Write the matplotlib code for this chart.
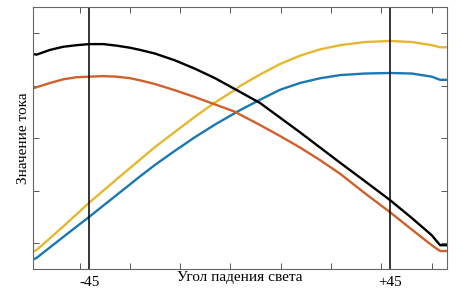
import matplotlib.pyplot as plt
import numpy as np

plt.rcParams['font.family'] = ['Liberation Serif', 'DejaVu Serif']

# angle of incidence, degrees
black_x = [-61.7, -60.7, -56.7, -52.7, -48.7, -45.0, -40.7, -36.7, -32.7, -29.8, -25.3, -19.3, -13.3,
           -7.3, -1.3, 6.1, 12.1, 18.1, 24.1, 30.1, 37.5, 45.0, 51.5, 57.5, 60.0, 62.0]
black_y = [4.10, 4.09, 4.18, 4.24, 4.27, 4.29, 4.29, 4.26, 4.22, 4.18, 4.11, 3.98, 3.82,
           3.64, 3.43, 3.17, 2.89, 2.61, 2.32, 2.03, 1.68, 1.32, 0.98, 0.65, 0.46, 0.46]

orange_x = [-61.7, -60.7, -56.7, -52.7, -48.7, -45.0, -40.7, -36.7, -32.7, -29.8, -25.3, -19.3, -13.3,
            -7.3, -1.3, 0.1, 6.1, 12.1, 18.1, 24.1, 30.1, 37.5, 45.0, 51.5, 57.5, 60.0, 62.0]
orange_y = [3.45, 3.47, 3.55, 3.62, 3.66, 3.67, 3.68, 3.67, 3.64, 3.60, 3.53, 3.41, 3.28,
            3.14, 3.00, 2.95, 2.75, 2.54, 2.32, 2.08, 1.82, 1.45, 1.09, 0.76, 0.46, 0.35, 0.35]

yellow_x = [-61.7, -60.7, -52.7, -45.0, -36.7, -29.8, -25.3, -19.3, -13.3, -7.3, -1.3, 0.1,
            6.1, 12.1, 18.1, 24.1, 30.1, 37.5, 45.0, 51.5, 57.5, 60.0, 62.0]
yellow_y = [0.34, 0.37, 0.82, 1.27, 1.72, 2.09, 2.33, 2.62, 2.91, 3.18, 3.42, 3.49,
            3.71, 3.91, 4.07, 4.19, 4.27, 4.33, 4.35, 4.33, 4.27, 4.23, 4.23]

blue_x = [-61.7, -60.7, -52.7, -45.0, -36.7, -29.8, -25.3, -19.3, -13.3, -7.3, -1.3, 0.1,
          6.1, 12.1, 18.1, 24.1, 30.1, 37.5, 45.0, 51.5, 57.5, 60.0, 62.0]
blue_y = [0.19, 0.22, 0.62, 1.00, 1.42, 1.77, 1.99, 2.26, 2.52, 2.76, 2.98, 3.03,
          3.23, 3.42, 3.55, 3.64, 3.70, 3.73, 3.74, 3.73, 3.67, 3.61, 3.61]

marker_angles = [-45, 45]
marker_labels = ['-45', '+45']
minor_x = [-47.7, -32.7, -17.8, -2.8, 12.4, 27.4, 42.3, 57.6]
minor_y = [0.5, 1.5, 2.5, 3.5, 4.5]

fig = plt.figure(figsize=(4.63, 2.97), dpi=100)
ax = fig.add_axes([0.072, 0.093, 0.893, 0.884])

ax.plot(blue_x, blue_y, color='#1a78b4', lw=1.7, solid_joinstyle='round')
ax.plot(yellow_x, yellow_y, color='#e6b830', lw=1.7, solid_joinstyle='round')
ax.plot(orange_x, orange_y, color='#d0602c', lw=1.7, solid_joinstyle='round')
ax.plot(black_x, black_y, color='black', lw=1.7, solid_joinstyle='round')
for a in marker_angles:
    ax.axvline(a, color='black', lw=1.1)

ax.set_xlim(-61.7, 62)
ax.set_ylim(0, 5)
ax.set_xticks(marker_angles)
ax.set_xticklabels(marker_labels, fontsize=11)
ax.set_xticks(minor_x, minor=True)
ax.set_yticks(minor_y)
ax.set_yticklabels([])
ax.tick_params(axis='x', which='major', length=0, pad=5)
ax.tick_params(which='both', direction='in', top=True, right=True, color='#555555', width=0.7)
ax.tick_params(which='minor', length=4)
ax.tick_params(axis='y', length=4)
for s in ax.spines.values():
    s.set_color('#666666')
    s.set_linewidth(0.8)

ax.set_xlabel('Угол падения света', fontsize=11, labelpad=-13)
ax.set_ylabel('Значение тока', fontsize=11, labelpad=-1)

fig.savefig('out.png', dpi=100)
